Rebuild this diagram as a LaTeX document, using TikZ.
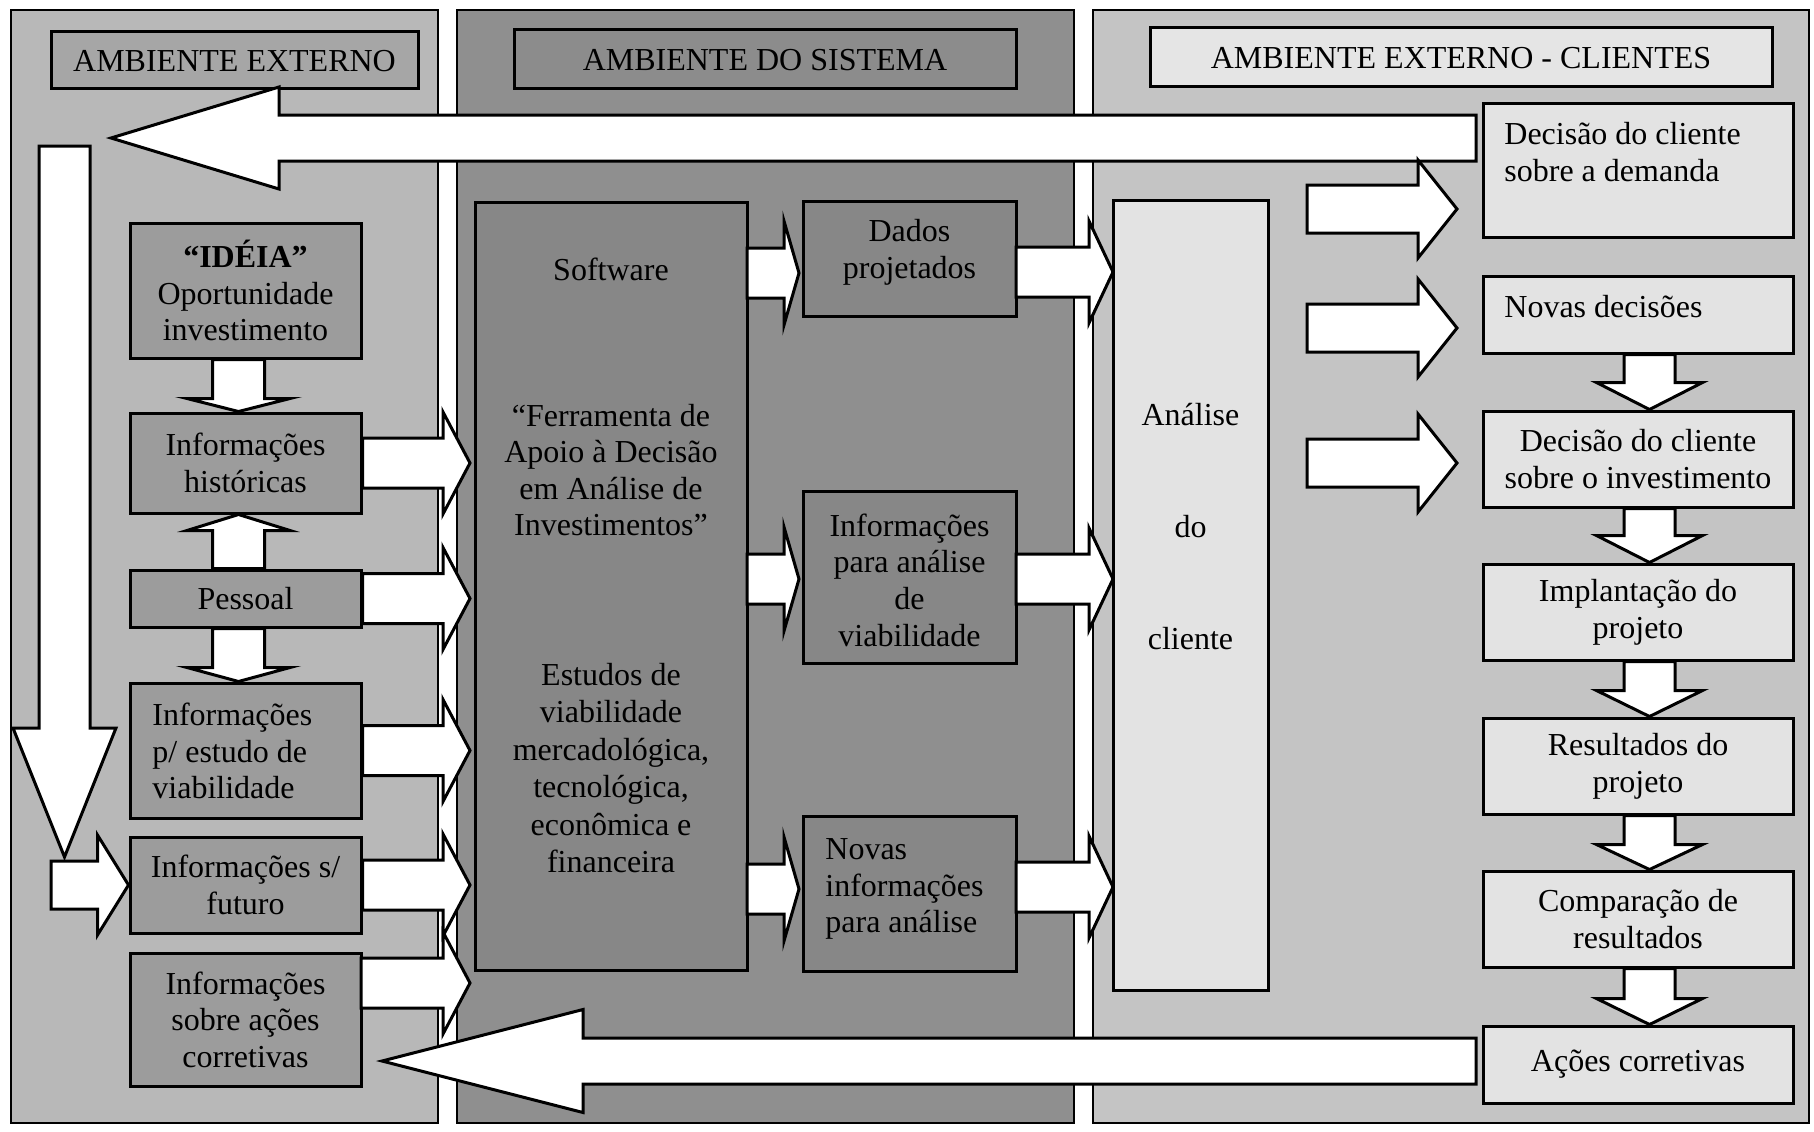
\documentclass[tikz,border=0pt]{standalone}
\usepackage{fontspec}
\setmainfont{Liberation Serif}
\usetikzlibrary{calc,fit}

\definecolor{zoneLfill}{gray}{0.72}
\definecolor{zoneMfill}{gray}{0.56}
\definecolor{zoneRfill}{gray}{0.77}
\definecolor{boxLfill}{gray}{0.61}
\definecolor{boxMfill}{gray}{0.53}
\definecolor{boxRfill}{gray}{0.89}
\definecolor{titLfill}{gray}{0.65}
\definecolor{titMfill}{gray}{0.55}
\definecolor{titRfill}{gray}{0.90}

\tikzset{
  zone/.style={draw=black, line width=1.1pt, inner sep=0pt},
  frame/.style={draw=black, line width=1.5pt, inner sep=0pt},
  txt/.style={font=\fontsize{16pt}{18.3pt}\selectfont, align=center, inner sep=0pt, text=black},
  blk/.style={draw=black, line width=1.5pt, fill=white, line join=miter},
}

% block arrow: #1 tail, #2 tip, #3 half shaft width, #4 half head width,
% #5 head length, #6 name of the head-base coordinate
\newcommand{\flowarrow}[6]{%
  \coordinate (#6) at ($(#2)!#5!(#1)$);
  \draw[blk] ($(#1)!#3!90:(#2)$) -- ($(#6)!#3!-90:(#1)$) -- ($(#6)!#4!-90:(#1)$)
    -- (#2) -- ($(#6)!#4!90:(#1)$) -- ($(#6)!#3!90:(#1)$) -- ($(#1)!#3!-90:(#2)$) -- cycle;
}

\begin{document}
\begin{tikzpicture}[x=0.5pt,y=-0.5pt]
\useasboundingbox (0,0) rectangle (1814,1131);
\fill[white] (0,0) rectangle (1814,1131);

% ---- three environments ----
\node[zone, fill=zoneLfill, fit={(11,10) (438,1123)}] (zoneL) {};
\node[zone, fill=zoneMfill, fit={(457,10) (1074,1123)}] (zoneM) {};
\node[zone, fill=zoneRfill, fit={(1093,10) (1809,1123)}] (zoneR) {};

% ---- titles ----
\node[frame, fill=titLfill, fit={(51,31) (418,88)}] (titL) {};
\node[txt] (titLtxt) at ([yshift=-1pt]titL.center) {AMBIENTE EXTERNO};
\node[frame, fill=titMfill, fit={(514,29) (1016,88)}] (titM) {};
\node[txt] (titMtxt) at ([yshift=-1pt]titM.center) {AMBIENTE DO SISTEMA};
\node[frame, fill=titRfill, fit={(1150,27) (1772,86)}] (titR) {};
\node[txt] (titRtxt) at ([yshift=-1pt]titR.center) {AMBIENTE EXTERNO - CLIENTES};

% ---- external environment ----
\node[frame, fill=boxLfill, fit={(130,223) (361,358)}] (idea) {};
\node[txt] (ideatxt) at (idea.center) {\textbf{“IDÉIA”}\\Oportunidade\\investimento};
\node[frame, fill=boxLfill, fit={(130,413) (361,513)}] (hist) {};
\node[txt] (histtxt) at (hist.center) {Informações\\históricas};
\node[frame, fill=boxLfill, fit={(130,570) (361,627)}] (pess) {};
\node[txt] (pesstxt) at (pess.center) {Pessoal};
\node[frame, fill=boxLfill, fit={(130,683) (361,818)}] (estudo) {};
\node[txt, anchor=west, align=left] (estudotxt) at (152,751)
  {Informações\\p/ estudo de\\viabilidade};
\node[frame, fill=boxLfill, fit={(130,837) (361,933)}] (fut) {};
\node[txt] (futtxt) at (fut.center) {Informações s/\\futuro};
\node[frame, fill=boxLfill, fit={(130,953) (361,1086)}] (corr) {};
\node[txt] (corrtxt) at (corr.center) {Informações\\sobre ações\\corretivas};

% ---- system environment ----
\node[frame, fill=boxMfill, fit={(475,202) (747,970)}] (soft) {};
\node[txt] (softA) at (611,269) {Software};
\node[txt] (softB) at (611,470)
  {“Ferramenta de\\Apoio à Decisão\\em Análise de\\Investimentos”};
\node[txt, font=\fontsize{16pt}{18.7pt}\selectfont] (softC) at (611,768)
  {Estudos de\\viabilidade\\mercadológica,\\tecnológica,\\econômica e\\financeira};
\node[frame, fill=boxMfill, fit={(803,201) (1016,316)}] (dados) {};
\node[txt] (dadostxt) at (909.5,252) {Dados\\projetados};
\node[frame, fill=boxMfill, fit={(803,491) (1016,663)}] (info) {};
\node[txt] (infotxt) at ([yshift=-1.5pt]info.center) {Informações\\para análise\\de\\viabilidade};
\node[frame, fill=boxMfill, fit={(803,816) (1016,971)}] (novas) {};
\node[txt, anchor=west, align=left] (novastxt) at (825,889)
  {Novas\\informações\\para análise};

% ---- client environment ----
\node[frame, fill=boxRfill, fit={(1113,200) (1268,990)}] (anal) {};
\node[txt] (analtxt) at (1190.5,527) {Análise\\[37.7pt]do\\[37.7pt]cliente};
\node[frame, fill=boxRfill, fit={(1483,103) (1793,237)}] (dem) {};
\node[txt, anchor=west, align=left] (demtxt) at (1504,152)
  {Decisão do cliente\\sobre a demanda};
\node[frame, fill=boxRfill, fit={(1483,276) (1793,353)}] (nov) {};
\node[txt, anchor=west] (novtxt) at (1504,307) {Novas decisões};
\node[frame, fill=boxRfill, fit={(1483,411) (1793,507)}] (inv) {};
\node[txt] (invtxt) at (inv.center) {Decisão do cliente\\sobre o investimento};
\node[frame, fill=boxRfill, fit={(1483,564) (1793,660)}] (impl) {};
\node[txt] (impltxt) at (impl.center) {Implantação do\\projeto};
\node[frame, fill=boxRfill, fit={(1483,718) (1793,814)}] (res) {};
\node[txt] (restxt) at (res.center) {Resultados do\\projeto};
\node[frame, fill=boxRfill, fit={(1483,871) (1793,967)}] (comp) {};
\node[txt] (comptxt) at (comp.center) {Comparação de\\resultados};
\node[frame, fill=boxRfill, fit={(1483,1026) (1793,1103)}] (acoes) {};
\node[txt] (acoestxt) at (acoes.center) {Ações corretivas};

% ---- free ends of the connectors ----
\coordinate (topTail) at (1476,138);
\coordinate (topTip) at (111,138);
\coordinate (botTail) at (1476,1061);
\coordinate (botTip) at (382,1061);
\coordinate (loopTop) at (64.5,146);
\coordinate (loopTip) at (64.5,857);
\coordinate (futTail) at (51,885);
\coordinate (softIn) at (470,0);
\coordinate (corrTail) at (361,983);
\coordinate (corrTip) at (470,983);
\coordinate (softD) at (747,273);  \coordinate (dadosIn) at (799,273);
\coordinate (softI) at (747,579);  \coordinate (infoIn) at (799,579);
\coordinate (softN) at (747,889);  \coordinate (novasIn) at (799,889);
\coordinate (dadosOut) at (1016,272); \coordinate (analD) at (1113,272);
\coordinate (infoOut) at (1016,579);  \coordinate (analI) at (1113,579);
\coordinate (novasOut) at (1016,887); \coordinate (analN) at (1113,887);
\coordinate (cliA) at (1307,209); \coordinate (demIn) at (1457,209);
\coordinate (cliB) at (1307,328); \coordinate (novIn) at (1457,328);
\coordinate (cliC) at (1307,463); \coordinate (invIn) at (1457,463);

% ---- feedback arrows ----
\flowarrow{topTail}{topTip}{11.5pt}{25.5pt}{84pt}{hbTop}
\flowarrow{botTail}{botTip}{11.5pt}{25.75pt}{100.5pt}{hbBot}
\flowarrow{loopTop}{loopTip}{12.75pt}{25.75pt}{64.5pt}{hbLoop}
\flowarrow{futTail}{fut.west}{12pt}{25pt}{15.5pt}{hbFut}

% ---- flow inside the external environment ----
\flowarrow{[xshift=-3.5pt]idea.south}{[xshift=-3.5pt]hist.north}{13pt}{25.75pt}{6.5pt}{hbIdea}
\flowarrow{[xshift=-3.5pt]pess.north}{[xshift=-3.5pt]hist.south}{13pt}{25.75pt}{8pt}{hbPessUp}
\flowarrow{[xshift=-3.5pt]pess.south}{[xshift=-3.5pt]estudo.north}{13pt}{25.75pt}{7pt}{hbPessDn}

% ---- external environment into the software ----
\flowarrow{hist.east}{hist.east -| softIn}{12.5pt}{25.5pt}{13.5pt}{hbHist}
\flowarrow{pess.east}{pess.east -| softIn}{12.5pt}{25.5pt}{13.5pt}{hbPess}
\flowarrow{estudo.east}{estudo.east -| softIn}{12.5pt}{25.5pt}{13.5pt}{hbEst}
\flowarrow{fut.east}{fut.east -| softIn}{12.5pt}{25.5pt}{13.5pt}{hbFutOut}
\flowarrow{corrTail}{corrTip}{12.5pt}{25.5pt}{13.5pt}{hbCorr}

% ---- software outputs ----
\flowarrow{softD}{dadosIn}{12.5pt}{26pt}{7.5pt}{hbSD}
\flowarrow{softI}{infoIn}{12.5pt}{26pt}{7.5pt}{hbSI}
\flowarrow{softN}{novasIn}{12.5pt}{26pt}{7.5pt}{hbSN}
\flowarrow{dadosOut}{analD}{12.5pt}{25.5pt}{12pt}{hbDA}
\flowarrow{infoOut}{analI}{12.5pt}{25.5pt}{12pt}{hbIA}
\flowarrow{novasOut}{analN}{12.5pt}{25.5pt}{12pt}{hbNA}

% ---- client decisions ----
\flowarrow{cliA}{demIn}{12pt}{24.5pt}{19.5pt}{hbCA}
\flowarrow{cliB}{novIn}{12pt}{24.5pt}{19.5pt}{hbCB}
\flowarrow{cliC}{invIn}{12pt}{24.5pt}{19.5pt}{hbCC}
\flowarrow{[xshift=5.75pt]nov.south}{[xshift=5.75pt]inv.north}{12.75pt}{26.5pt}{13.5pt}{hbR1}
\flowarrow{[xshift=5.75pt]inv.south}{[xshift=5.75pt]impl.north}{12.75pt}{26.5pt}{13.5pt}{hbR2}
\flowarrow{[xshift=5.75pt]impl.south}{[xshift=5.75pt]res.north}{12.75pt}{26.5pt}{13pt}{hbR3}
\flowarrow{[xshift=5.75pt]res.south}{[xshift=5.75pt]comp.north}{12.75pt}{26.5pt}{12.5pt}{hbR4}
\flowarrow{[xshift=5.75pt]comp.south}{[xshift=5.75pt]acoes.north}{12.75pt}{26.5pt}{13pt}{hbR5}

\end{tikzpicture}
\end{document}
